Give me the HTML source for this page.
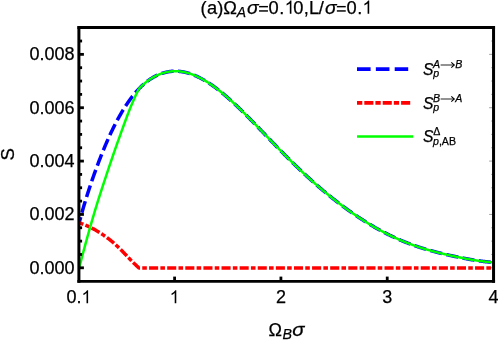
<!DOCTYPE html>
<html><head><meta charset="utf-8">
<style>
html,body{margin:0;padding:0;background:#fff;}
body{width:498px;height:340px;overflow:hidden;}
svg{display:block;will-change:transform;}
text{font-family:"Liberation Sans",sans-serif;fill:#000;stroke:#000;stroke-width:0.25px;}
.i{font-style:italic;}
</style></head><body>
<svg width="498" height="340" viewBox="0 0 498 340">
<rect x="0" y="0" width="498" height="340" fill="#fff"/>
<g font-size="18">
<text transform="translate(200.50,13.70) rotate(0.02)" font-size="18.30">(</text>
<text transform="translate(206.90,13.70) rotate(0.02)" font-size="18.30">a</text>
<text transform="translate(217.30,13.70) rotate(0.02)" font-size="18.30">)</text>
<text transform="translate(223.30,13.70) rotate(0.02)" font-size="18.30">Ω</text>
<text transform="translate(236.80,16.50) rotate(0.02)" font-size="13.90" class="i">A</text>
<text transform="translate(246.90,13.70) rotate(0.02)" font-size="19.21" class="i">σ</text>
<rect x="259.05" y="5.93" width="8.9" height="1.44" fill="#000"/>
<rect x="259.05" y="10.23" width="8.9" height="1.44" fill="#000"/>
<text transform="translate(268.60,13.70) rotate(0.02)" font-size="18.30">0</text>
<text transform="translate(279.30,13.70) rotate(0.02)" font-size="18.30">.</text>
<path transform="translate(284.60,13.70) scale(0.00894,-0.00894)" d="M763,0 L583,0 L583,1147 Q518,1085 412.5,1023 Q307,961 223,930 L223,1104 Q374,1175 487,1276 Q600,1377 647,1472 L763,1472 Z" fill="#000"/>
<text transform="translate(293.20,13.70) rotate(0.02)" font-size="18.30">0</text>
<text transform="translate(303.70,13.70) rotate(0.02)" font-size="18.30">,</text>
<text transform="translate(308.90,13.70) rotate(0.02)" font-size="18.30">L</text>
<text transform="translate(318.70,13.70) rotate(0.02)" font-size="18.30">/</text>
<text transform="translate(325.00,13.70) rotate(0.02)" font-size="19.21" class="i">σ</text>
<rect x="336.85" y="5.93" width="8.9" height="1.44" fill="#000"/>
<rect x="336.85" y="10.23" width="8.9" height="1.44" fill="#000"/>
<text transform="translate(346.50,13.70) rotate(0.02)" font-size="18.30">0</text>
<text transform="translate(357.20,13.70) rotate(0.02)" font-size="18.30">.</text>
<path transform="translate(362.40,13.70) scale(0.00894,-0.00894)" d="M763,0 L583,0 L583,1147 Q518,1085 412.5,1023 Q307,961 223,930 L223,1104 Q374,1175 487,1276 Q600,1377 647,1472 L763,1472 Z" fill="#000"/>
<text transform="translate(74.60,273.75) rotate(0.02)" text-anchor="end">0.000</text>
<text transform="translate(74.60,220.39) rotate(0.02)" text-anchor="end">0.002</text>
<text transform="translate(74.60,167.03) rotate(0.02)" text-anchor="end">0.004</text>
<text transform="translate(74.60,113.67) rotate(0.02)" text-anchor="end">0.006</text>
<text transform="translate(74.60,60.31) rotate(0.02)" text-anchor="end">0.008</text>
<text transform="translate(66.39,303.20) rotate(0.02)">0.</text>
<path transform="translate(81.40,303.20) scale(0.00879,-0.00879)" d="M763,0 L583,0 L583,1147 Q518,1085 412.5,1023 Q307,961 223,930 L223,1104 Q374,1175 487,1276 Q600,1377 647,1472 L763,1472 Z" fill="#000"/>
<path transform="translate(169.58,303.20) scale(0.00879,-0.00879)" d="M763,0 L583,0 L583,1147 Q518,1085 412.5,1023 Q307,961 223,930 L223,1104 Q374,1175 487,1276 Q600,1377 647,1472 L763,1472 Z" fill="#000"/>
<text transform="translate(280.91,303.20) rotate(0.02)" text-anchor="middle">2</text>
<text transform="translate(387.23,303.20) rotate(0.02)" text-anchor="middle">3</text>
<text transform="translate(493.55,303.20) rotate(0.02)" text-anchor="middle">4</text>
<text transform="translate(268.50,335.95) rotate(0.02)" font-size="18.00">Ω</text>
<text transform="translate(282.40,338.60) rotate(0.02)" font-size="14.20" class="i">B</text>
<text transform="translate(292.30,336.30) rotate(0.02) scale(1.07,1)" font-size="18.90" class="i">σ</text>
<text transform="translate(14.2,154.3) rotate(-90.02)" text-anchor="middle" font-size="18.6">S</text>
</g>
<line x1="493.55" y1="267.80" x2="489.15" y2="267.80" stroke="#777" stroke-width="0.7"/>
<line x1="493.55" y1="254.46" x2="491.25" y2="254.46" stroke="#777" stroke-width="0.7"/>
<line x1="493.55" y1="241.12" x2="491.25" y2="241.12" stroke="#777" stroke-width="0.7"/>
<line x1="493.55" y1="227.78" x2="491.25" y2="227.78" stroke="#777" stroke-width="0.7"/>
<line x1="493.55" y1="214.44" x2="489.15" y2="214.44" stroke="#777" stroke-width="0.7"/>
<line x1="493.55" y1="201.10" x2="491.25" y2="201.10" stroke="#777" stroke-width="0.7"/>
<line x1="493.55" y1="187.76" x2="491.25" y2="187.76" stroke="#777" stroke-width="0.7"/>
<line x1="493.55" y1="174.42" x2="491.25" y2="174.42" stroke="#777" stroke-width="0.7"/>
<line x1="493.55" y1="161.08" x2="489.15" y2="161.08" stroke="#777" stroke-width="0.7"/>
<line x1="493.55" y1="147.74" x2="491.25" y2="147.74" stroke="#777" stroke-width="0.7"/>
<line x1="493.55" y1="134.40" x2="491.25" y2="134.40" stroke="#777" stroke-width="0.7"/>
<line x1="493.55" y1="121.06" x2="491.25" y2="121.06" stroke="#777" stroke-width="0.7"/>
<line x1="493.55" y1="107.72" x2="489.15" y2="107.72" stroke="#777" stroke-width="0.7"/>
<line x1="493.55" y1="94.38" x2="491.25" y2="94.38" stroke="#777" stroke-width="0.7"/>
<line x1="493.55" y1="81.04" x2="491.25" y2="81.04" stroke="#777" stroke-width="0.7"/>
<line x1="493.55" y1="67.70" x2="491.25" y2="67.70" stroke="#777" stroke-width="0.7"/>
<line x1="493.55" y1="54.36" x2="489.15" y2="54.36" stroke="#777" stroke-width="0.7"/>
<line x1="493.55" y1="41.02" x2="491.25" y2="41.02" stroke="#777" stroke-width="0.7"/>
<clipPath id="cp"><rect x="78.9" y="27.7" width="414.65" height="253.70"/></clipPath>
<g fill="none" stroke-linejoin="round" clip-path="url(#cp)">
<path d="M78.90,223.99 L79.36,222.20 L79.82,220.43 L80.28,218.69 L80.74,216.97 L81.21,215.28 L81.67,213.61 L82.13,211.96 L82.59,210.33 L83.05,208.72 L83.51,207.13 L83.97,205.56 L84.43,204.01 L84.90,202.47 L85.36,200.95 L85.82,199.44 L86.28,197.95 L86.74,196.48 L87.20,195.01 L87.66,193.56 L88.12,192.13 L88.59,190.70 L89.05,189.29 L89.51,187.89 L89.97,186.49 L90.43,185.11 L90.89,183.74 L91.35,182.38 L91.81,181.03 L92.28,179.69 L92.74,178.36 L93.20,177.04 L93.66,175.73 L94.12,174.43 L94.58,173.13 L95.04,171.85 L95.50,170.57 L95.97,169.30 L96.43,168.05 L96.89,166.79 L97.35,165.55 L97.81,164.32 L98.27,163.09 L98.73,161.88 L99.19,160.67 L99.66,159.47 L100.12,158.28 L100.58,157.10 L101.04,155.93 L101.50,154.76 L101.96,153.61 L102.42,152.46 L102.88,151.32 L103.35,150.19 L103.81,149.07 L104.27,147.96 L104.73,146.86 L105.19,145.76 L105.65,144.67 L106.11,143.60 L106.57,142.53 L107.04,141.47 L107.50,140.42 L107.96,139.38 L108.42,138.35 L108.88,137.32 L109.34,136.31 L109.80,135.30 L110.26,134.30 L110.73,133.31 L111.19,132.33 L111.65,131.36 L112.11,130.40 L112.57,129.45 L113.03,128.50 L113.49,127.56 L113.95,126.64 L114.42,125.72 L114.88,124.81 L115.34,123.91 L115.80,123.01 L116.26,122.13 L116.72,121.25 L117.18,120.39 L117.64,119.53 L118.10,118.68 L118.57,117.84 L119.03,117.00 L119.49,116.18 L119.95,115.36 L120.41,114.55 L120.87,113.76 L121.33,112.96 L121.79,112.18 L122.26,111.41 L122.72,110.64 L123.18,109.88 L123.64,109.13 L124.10,108.39 L124.56,107.66 L125.02,106.93 L125.48,106.22 L125.95,105.51 L126.41,104.81 L126.87,104.12 L127.33,103.43 L127.79,102.75 L128.25,102.09 L128.71,101.42 L129.17,100.77 L129.64,100.13 L130.10,99.49 L130.56,98.86 L131.02,98.24 L131.48,97.62 L131.94,97.02 L132.40,96.42 L132.86,95.83 L133.33,95.25 L133.79,94.67 L134.25,94.10 L134.71,93.54 L135.17,92.99 L135.63,92.44 L136.09,91.91 L136.55,91.37 L137.02,90.85 L137.48,90.34 L137.94,89.83 L138.40,89.33 L138.86,88.83 L139.32,88.35 L139.78,87.87 L140.24,87.41 L140.71,86.95 L141.17,86.49 L141.63,86.05 L142.09,85.61 L142.55,85.19 L143.01,84.77 L143.47,84.35 L143.93,83.95 L144.40,83.55 L144.86,83.16 L145.32,82.78 L145.78,82.40 L146.24,82.03 L146.70,81.67 L147.16,81.32 L147.62,80.97 L148.09,80.63 L148.55,80.30 L149.01,79.98 L149.47,79.66 L149.93,79.35 L150.39,79.04 L150.85,78.74 L151.31,78.45 L151.78,78.17 L152.24,77.89 L152.70,77.62 L153.16,77.35 L153.62,77.09 L154.08,76.84 L154.54,76.59 L155.00,76.35 L155.46,76.11 L155.93,75.88 L156.39,75.66 L156.85,75.44 L157.31,75.23 L157.77,75.03 L158.23,74.83 L158.69,74.63 L159.15,74.45 L159.62,74.26 L160.08,74.09 L160.54,73.91 L161.00,73.75 L161.46,73.58 L161.92,73.43 L162.38,73.28 L162.84,73.13 L163.31,72.99 L163.77,72.85 L164.23,72.72 L164.69,72.60 L165.15,72.47 L165.61,72.36 L166.07,72.25 L166.53,72.14 L167.00,72.04 L167.46,71.95 L167.92,71.86 L168.38,71.78 L168.84,71.70 L169.30,71.63 L169.76,71.57 L170.22,71.50 L170.69,71.45 L171.15,71.40 L171.61,71.36 L172.07,71.32 L172.53,71.28 L172.99,71.25 L173.45,71.23 L173.91,71.21 L174.38,71.20 L174.84,71.19 L175.30,71.19 L175.76,71.19 L176.22,71.20 L176.68,71.22 L177.14,71.23 L177.60,71.26 L178.07,71.28 L178.53,71.32 L178.99,71.36 L179.45,71.40 L179.91,71.45 L180.37,71.50 L180.83,71.56 L181.29,71.62 L181.76,71.69 L182.22,71.76 L182.68,71.83 L183.14,71.92 L183.60,72.00 L184.06,72.09 L184.52,72.19 L184.98,72.29 L185.45,72.39 L185.91,72.50 L186.37,72.61 L186.83,72.73 L187.29,72.85 L187.75,72.98 L188.21,73.11 L188.67,73.25 L189.14,73.39 L189.60,73.53 L190.06,73.68 L190.52,73.83 L190.98,73.99 L191.44,74.15 L191.90,74.31 L192.36,74.48 L192.82,74.66 L193.29,74.84 L193.75,75.02 L194.21,75.20 L194.67,75.39 L195.13,75.59 L195.59,75.78 L196.05,75.99 L196.51,76.19 L196.98,76.40 L197.44,76.61 L197.90,76.83 L198.36,77.05 L198.82,77.28 L199.28,77.50 L199.74,77.74 L200.20,77.97 L200.67,78.21 L201.13,78.45 L201.59,78.70 L202.05,78.95 L202.51,79.21 L202.97,79.46 L203.43,79.72 L203.89,79.99 L204.36,80.25 L204.82,80.53 L205.28,80.80 L205.74,81.08 L206.20,81.36 L206.66,81.64 L207.12,81.93 L207.58,82.22 L208.05,82.52 L208.51,82.81 L208.97,83.11 L209.43,83.42 L209.89,83.72 L210.35,84.03 L210.81,84.35 L211.27,84.66 L211.74,84.98 L212.20,85.30 L212.66,85.63 L213.12,85.95 L213.58,86.28 L214.04,86.62 L214.50,86.95 L214.96,87.29 L215.43,87.63 L215.89,87.98 L216.35,88.32 L216.81,88.67 L217.27,89.02 L217.73,89.38 L218.19,89.74 L218.65,90.10 L219.12,90.46 L219.58,90.82 L220.04,91.19 L220.50,91.56 L220.96,91.93 L221.42,92.31 L221.88,92.68 L222.34,93.06 L222.81,93.44 L223.27,93.83 L223.73,94.21 L224.19,94.60 L224.65,94.99 L225.11,95.39 L225.57,95.78 L226.03,96.18 L226.50,96.58 L226.96,96.98 L227.42,97.38 L227.88,97.78 L228.34,98.19 L228.80,98.60 L229.26,99.01 L229.72,99.42 L230.18,99.84 L230.65,100.25 L231.11,100.67 L231.57,101.09 L232.03,101.51 L232.49,101.94 L232.95,102.36 L233.41,102.79 L233.87,103.21 L234.34,103.64 L234.80,104.08 L235.26,104.51 L235.72,104.94 L236.18,105.38 L236.64,105.82 L237.10,106.25 L237.56,106.70 L238.03,107.14 L238.49,107.58 L238.95,108.02 L239.41,108.47 L239.87,108.92 L240.33,109.36 L240.79,109.81 L241.25,110.26 L241.72,110.72 L242.18,111.17 L242.64,111.62 L243.10,112.08 L243.56,112.53 L244.02,112.99 L244.48,113.45 L244.94,113.91 L245.41,114.37 L245.87,114.83 L246.33,115.29 L246.79,115.76 L247.25,116.22 L247.71,116.68 L248.17,117.15 L248.63,117.62 L249.10,118.08 L249.56,118.55 L250.02,119.02 L250.48,119.49 L250.94,119.96 L251.40,120.43 L251.86,120.90 L252.32,121.37 L252.79,121.85 L253.25,122.32 L253.71,122.79 L254.17,123.27 L254.63,123.74 L255.09,124.22 L255.55,124.69 L256.01,125.17 L256.48,125.64 L256.94,126.12 L257.40,126.60 L257.86,127.08 L258.32,127.55 L258.78,128.03 L259.24,128.51 L259.70,128.99 L260.17,129.47 L260.63,129.95 L261.09,130.43 L261.55,130.91 L262.01,131.38 L262.47,131.86 L262.93,132.34 L263.39,132.82 L263.86,133.30 L264.32,133.78 L264.78,134.26 L265.24,134.74 L265.70,135.22 L266.16,135.70 L266.62,136.18 L267.08,136.66 L267.54,137.14 L268.01,137.62 L268.47,138.10 L268.93,138.58 L269.39,139.06 L269.85,139.54 L270.31,140.02 L270.77,140.50 L271.23,140.98 L271.70,141.46 L272.16,141.93 L272.62,142.41 L273.08,142.89 L273.54,143.37 L274.00,143.84 L274.46,144.32 L274.92,144.80 L275.39,145.27 L275.85,145.75 L276.31,146.22 L276.77,146.70 L277.23,147.17 L277.69,147.64 L278.15,148.12 L278.61,148.59 L279.08,149.06 L279.54,149.53 L280.00,150.01 L280.46,150.48 L280.92,150.95 L281.38,151.42 L281.84,151.89 L282.30,152.35 L282.77,152.82 L283.23,153.29 L283.69,153.76 L284.15,154.22 L284.61,154.69 L285.07,155.15 L285.53,155.62 L285.99,156.08 L286.46,156.54 L286.92,157.00 L287.38,157.47 L287.84,157.93 L288.30,158.39 L288.76,158.85 L289.22,159.30 L289.68,159.76 L290.15,160.22 L290.61,160.67 L291.07,161.13 L291.53,161.59 L291.99,162.04 L292.45,162.49 L292.91,162.94 L293.37,163.40 L293.84,163.85 L294.30,164.30 L294.76,164.74 L295.22,165.19 L295.68,165.64 L296.14,166.09 L296.60,166.53 L297.06,166.98 L297.53,167.42 L297.99,167.86 L298.45,168.31 L298.91,168.75 L299.37,169.19 L299.83,169.63 L300.29,170.06 L300.75,170.50 L301.22,170.94 L301.68,171.37 L302.14,171.81 L302.60,172.24 L303.06,172.68 L303.52,173.11 L303.98,173.54 L304.44,173.97 L304.91,174.40 L305.37,174.83 L305.83,175.25 L306.29,175.68 L306.75,176.10 L307.21,176.53 L307.67,176.95 L308.13,177.37 L308.59,177.79 L309.06,178.21 L309.52,178.63 L309.98,179.05 L310.44,179.47 L310.90,179.89 L311.36,180.30 L311.82,180.71 L312.28,181.13 L312.75,181.54 L313.21,181.95 L313.67,182.36 L314.13,182.77 L314.59,183.18 L315.05,183.59 L315.51,183.99 L315.97,184.40 L316.44,184.80 L316.90,185.20 L317.36,185.61 L317.82,186.01 L318.28,186.41 L318.74,186.81 L319.20,187.20 L319.66,187.60 L320.13,188.00 L320.59,188.39 L321.05,188.78 L321.51,189.18 L321.97,189.57 L322.43,189.96 L322.89,190.35 L323.35,190.74 L323.82,191.12 L324.28,191.51 L324.74,191.89 L325.20,192.28 L325.66,192.66 L326.12,193.04 L326.58,193.43 L327.04,193.81 L327.51,194.18 L327.97,194.56 L328.43,194.94 L328.89,195.31 L329.35,195.69 L329.81,196.06 L330.27,196.44 L330.73,196.81 L331.20,197.18 L331.66,197.55 L332.12,197.91 L332.58,198.28 L333.04,198.65 L333.50,199.01 L333.96,199.38 L334.42,199.74 L334.89,200.10 L335.35,200.46 L335.81,200.82 L336.27,201.18 L336.73,201.54 L337.19,201.90 L337.65,202.25 L338.11,202.61 L338.58,202.96 L339.04,203.31 L339.50,203.66 L339.96,204.01 L340.42,204.36 L340.88,204.71 L341.34,205.06 L341.80,205.40 L342.27,205.75 L342.73,206.09 L343.19,206.43 L343.65,206.78 L344.11,207.12 L344.57,207.46 L345.03,207.79 L345.49,208.13 L345.95,208.47 L346.42,208.80 L346.88,209.14 L347.34,209.47 L347.80,209.80 L348.26,210.13 L348.72,210.46 L349.18,210.79 L349.64,211.12 L350.11,211.44 L350.57,211.77 L351.03,212.09 L351.49,212.42 L351.95,212.74 L352.41,213.06 L352.87,213.38 L353.33,213.70 L353.80,214.02 L354.26,214.33 L354.72,214.65 L355.18,214.96 L355.64,215.28 L356.10,215.59 L356.56,215.90 L357.02,216.21 L357.49,216.52 L357.95,216.83 L358.41,217.13 L358.87,217.44 L359.33,217.74 L359.79,218.04 L360.25,218.35 L360.71,218.65 L361.18,218.95 L361.64,219.25 L362.10,219.54 L362.56,219.84 L363.02,220.14 L363.48,220.43 L363.94,220.72 L364.40,221.01 L364.87,221.30 L365.33,221.59 L365.79,221.88 L366.25,222.17 L366.71,222.46 L367.17,222.74 L367.63,223.02 L368.09,223.31 L368.56,223.59 L369.02,223.87 L369.48,224.15 L369.94,224.42 L370.40,224.70 L370.86,224.98 L371.32,225.25 L371.78,225.52 L372.25,225.80 L372.71,226.07 L373.17,226.34 L373.63,226.60 L374.09,226.87 L374.55,227.14 L375.01,227.40 L375.47,227.67 L375.94,227.93 L376.40,228.19 L376.86,228.45 L377.32,228.71 L377.78,228.97 L378.24,229.22 L378.70,229.48 L379.16,229.73 L379.63,229.98 L380.09,230.24 L380.55,230.49 L381.01,230.74 L381.47,230.98 L381.93,231.23 L382.39,231.48 L382.85,231.72 L383.31,231.96 L383.78,232.20 L384.24,232.45 L384.70,232.68 L385.16,232.92 L385.62,233.16 L386.08,233.40 L386.54,233.63 L387.00,233.86 L387.47,234.10 L387.93,234.33 L388.39,234.56 L388.85,234.78 L389.31,235.01 L389.77,235.24 L390.23,235.46 L390.69,235.68 L391.16,235.91 L391.62,236.13 L392.08,236.35 L392.54,236.57 L393.00,236.78 L393.46,237.00 L393.92,237.21 L394.38,237.43 L394.85,237.64 L395.31,237.85 L395.77,238.06 L396.23,238.27 L396.69,238.48 L397.15,238.68 L397.61,238.89 L398.07,239.09 L398.54,239.30 L399.00,239.50 L399.46,239.70 L399.92,239.90 L400.38,240.09 L400.84,240.29 L401.30,240.49 L401.76,240.68 L402.23,240.87 L402.69,241.07 L403.15,241.26 L403.61,241.45 L404.07,241.63 L404.53,241.82 L404.99,242.01 L405.45,242.19 L405.92,242.37 L406.38,242.56 L406.84,242.74 L407.30,242.92 L407.76,243.10 L408.22,243.27 L408.68,243.45 L409.14,243.63 L409.61,243.80 L410.07,243.97 L410.53,244.15 L410.99,244.32 L411.45,244.49 L411.91,244.65 L412.37,244.82 L412.83,244.99 L413.30,245.15 L413.76,245.32 L414.22,245.48 L414.68,245.64 L415.14,245.80 L415.60,245.96 L416.06,246.12 L416.52,246.28 L416.99,246.43 L417.45,246.59 L417.91,246.74 L418.37,246.90 L418.83,247.05 L419.29,247.20 L419.75,247.35 L420.21,247.50 L420.67,247.65 L421.14,247.80 L421.60,247.94 L422.06,248.09 L422.52,248.23 L422.98,248.37 L423.44,248.52 L423.90,248.66 L424.36,248.80 L424.83,248.94 L425.29,249.08 L425.75,249.21 L426.21,249.35 L426.67,249.49 L427.13,249.62 L427.59,249.76 L428.05,249.89 L428.52,250.02 L428.98,250.15 L429.44,250.28 L429.90,250.41 L430.36,250.54 L430.82,250.67 L431.28,250.80 L431.74,250.92 L432.21,251.05 L432.67,251.17 L433.13,251.30 L433.59,251.42 L434.05,251.54 L434.51,251.66 L434.97,251.79 L435.43,251.91 L435.90,252.03 L436.36,252.14 L436.82,252.26 L437.28,252.38 L437.74,252.50 L438.20,252.61 L438.66,252.73 L439.12,252.84 L439.59,252.96 L440.05,253.07 L440.51,253.18 L440.97,253.30 L441.43,253.41 L441.89,253.52 L442.35,253.63 L442.81,253.74 L443.28,253.85 L443.74,253.96 L444.20,254.07 L444.66,254.17 L445.12,254.28 L445.58,254.39 L446.04,254.49 L446.50,254.60 L446.97,254.71 L447.43,254.81 L447.89,254.91 L448.35,255.02 L448.81,255.12 L449.27,255.22 L449.73,255.33 L450.19,255.43 L450.66,255.53 L451.12,255.63 L451.58,255.73 L452.04,255.83 L452.50,255.93 L452.96,256.03 L453.42,256.13 L453.88,256.23 L454.35,256.32 L454.81,256.42 L455.27,256.52 L455.73,256.62 L456.19,256.71 L456.65,256.81 L457.11,256.90 L457.57,257.00 L458.03,257.09 L458.50,257.19 L458.96,257.28 L459.42,257.38 L459.88,257.47 L460.34,257.56 L460.80,257.65 L461.26,257.75 L461.72,257.84 L462.19,257.93 L462.65,258.02 L463.11,258.11 L463.57,258.20 L464.03,258.29 L464.49,258.38 L464.95,258.47 L465.41,258.56 L465.88,258.65 L466.34,258.73 L466.80,258.82 L467.26,258.91 L467.72,258.99 L468.18,259.08 L468.64,259.17 L469.10,259.25 L469.57,259.33 L470.03,259.42 L470.49,259.50 L470.95,259.58 L471.41,259.66 L471.87,259.74 L472.33,259.82 L472.79,259.89 L473.26,259.97 L473.72,260.05 L474.18,260.12 L474.64,260.19 L475.10,260.27 L475.56,260.34 L476.02,260.41 L476.48,260.48 L476.95,260.55 L477.41,260.62 L477.87,260.68 L478.33,260.75 L478.79,260.82 L479.25,260.88 L479.71,260.95 L480.17,261.01 L480.64,261.07 L481.10,261.13 L481.56,261.19 L482.02,261.25 L482.48,261.31 L482.94,261.37 L483.40,261.42 L483.86,261.48 L484.33,261.53 L484.79,261.59 L485.25,261.64 L485.71,261.69 L486.17,261.74 L486.63,261.79 L487.09,261.83 L487.55,261.88 L488.02,261.93 L488.48,261.97 L488.94,262.02 L489.40,262.06 L489.86,262.10 L490.32,262.14 L490.78,262.18 L491.24,262.21 L491.71,262.25 L492.17,262.28 L492.63,262.32 L493.09,262.35 L493.55,262.38" stroke="#0000ff" stroke-width="3.5" stroke-dasharray="12.12 4.42" stroke-dashoffset="5"/>
<path d="M78.90,222.75 L79.30,222.88 L79.71,223.01 L80.11,223.15 L80.51,223.28 L80.92,223.42 L81.32,223.56 L81.72,223.71 L82.13,223.85 L82.53,224.00 L82.93,224.15 L83.34,224.30 L83.74,224.46 L84.14,224.61 L84.55,224.77 L84.95,224.94 L85.35,225.10 L85.76,225.27 L86.16,225.44 L86.56,225.61 L86.97,225.78 L87.37,225.96 L87.77,226.14 L88.18,226.32 L88.58,226.50 L88.98,226.69 L89.39,226.88 L89.79,227.07 L90.19,227.26 L90.60,227.46 L91.00,227.66 L91.40,227.86 L91.81,228.07 L92.21,228.27 L92.61,228.48 L93.02,228.70 L93.42,228.91 L93.82,229.13 L94.23,229.35 L94.63,229.57 L95.03,229.80 L95.44,230.03 L95.84,230.26 L96.24,230.50 L96.65,230.73 L97.05,230.97 L97.45,231.22 L97.86,231.46 L98.26,231.71 L98.66,231.96 L99.07,232.22 L99.47,232.47 L99.87,232.73 L100.28,233.00 L100.68,233.26 L101.08,233.52 L101.49,233.79 L101.89,234.06 L102.29,234.33 L102.70,234.60 L103.10,234.87 L103.50,235.14 L103.91,235.42 L104.31,235.70 L104.71,235.98 L105.12,236.26 L105.52,236.54 L105.92,236.83 L106.33,237.12 L106.73,237.41 L107.13,237.71 L107.54,238.00 L107.94,238.31 L108.34,238.61 L108.75,238.92 L109.15,239.23 L109.56,239.54 L109.96,239.86 L110.36,240.18 L110.77,240.50 L111.17,240.83 L111.57,241.17 L111.98,241.50 L112.38,241.84 L112.78,242.19 L113.19,242.54 L113.59,242.89 L113.99,243.25 L114.40,243.60 L114.80,243.96 L115.20,244.33 L115.61,244.69 L116.01,245.06 L116.41,245.43 L116.82,245.81 L117.22,246.18 L117.62,246.56 L118.03,246.94 L118.43,247.33 L118.83,247.72 L119.24,248.11 L119.64,248.50 L120.04,248.90 L120.45,249.30 L120.85,249.70 L121.25,250.10 L121.66,250.51 L122.06,250.92 L122.46,251.34 L122.87,251.75 L123.27,252.17 L123.67,252.59 L124.08,253.01 L124.48,253.44 L124.88,253.86 L125.29,254.29 L125.69,254.71 L126.09,255.14 L126.50,255.57 L126.90,255.99 L127.30,256.42 L127.71,256.85 L128.11,257.27 L128.51,257.70 L128.92,258.12 L129.32,258.54 L129.72,258.96 L130.13,259.38 L130.53,259.79 L130.93,260.21 L131.34,260.62 L131.74,261.03 L132.14,261.44 L132.55,261.84 L132.95,262.24 L133.35,262.65 L133.76,263.05 L134.16,263.44 L134.56,263.84 L134.97,264.23 L135.37,264.62 L135.77,265.00 L136.18,265.38 L136.58,265.76 L136.98,266.14 L137.39,266.51 L137.79,266.87 L138.19,267.24 L138.60,267.60 L139.00,267.95 L493.55,267.95" stroke="#ff0000" stroke-width="3.5" stroke-dasharray="9.1 2.2 4.6 2.21" stroke-dashoffset="4.4"/>
<path d="M78.90,269.19 L79.36,267.32 L79.82,265.48 L80.28,263.66 L80.74,261.86 L81.21,260.07 L81.67,258.30 L82.13,256.54 L82.59,254.79 L83.05,253.05 L83.51,251.30 L83.97,249.56 L84.43,247.83 L84.90,246.10 L85.36,244.39 L85.82,242.69 L86.28,241.00 L86.74,239.31 L87.20,237.64 L87.66,235.97 L88.12,234.32 L88.59,232.67 L89.05,231.03 L89.51,229.40 L89.97,227.78 L90.43,226.16 L90.89,224.55 L91.35,222.95 L91.81,221.36 L92.28,219.77 L92.74,218.19 L93.20,216.61 L93.66,215.05 L94.12,213.49 L94.58,211.94 L95.04,210.39 L95.50,208.86 L95.97,207.34 L96.43,205.83 L96.89,204.34 L97.35,202.86 L97.81,201.38 L98.27,199.92 L98.73,198.46 L99.19,197.02 L99.66,195.58 L100.12,194.14 L100.58,192.72 L101.04,191.30 L101.50,189.88 L101.96,188.48 L102.42,187.07 L102.88,185.67 L103.35,184.27 L103.81,182.88 L104.27,181.48 L104.73,180.08 L105.19,178.69 L105.65,177.29 L106.11,175.88 L106.57,174.48 L107.04,173.09 L107.50,171.70 L107.96,170.31 L108.42,168.93 L108.88,167.55 L109.34,166.18 L109.80,164.81 L110.26,163.45 L110.73,162.09 L111.19,160.74 L111.65,159.38 L112.11,158.03 L112.57,156.69 L113.03,155.35 L113.49,154.01 L113.95,152.67 L114.42,151.35 L114.88,150.02 L115.34,148.71 L115.80,147.39 L116.26,146.09 L116.72,144.78 L117.18,143.49 L117.64,142.20 L118.10,140.91 L118.57,139.62 L119.03,138.33 L119.49,137.05 L119.95,135.76 L120.41,134.47 L120.87,133.18 L121.33,131.90 L121.79,130.61 L122.26,129.33 L122.72,128.05 L123.18,126.77 L123.64,125.49 L124.10,124.22 L124.56,122.96 L125.02,121.70 L125.48,120.45 L125.95,119.20 L126.41,117.96 L126.87,116.73 L127.33,115.51 L127.79,114.30 L128.25,113.10 L128.71,111.91 L129.17,110.73 L129.64,109.56 L130.10,108.41 L130.56,107.27 L131.02,106.15 L131.48,105.04 L131.94,103.94 L132.40,102.85 L132.86,101.78 L133.33,100.72 L133.79,99.66 L134.25,98.62 L134.71,97.59 L135.17,96.57 L135.63,95.57 L136.09,94.58 L136.55,93.60 L137.02,92.64 L137.48,91.70 L137.94,90.77 L138.40,89.86 L138.86,88.96 L139.32,88.35 L139.78,87.87 L140.24,87.41 L140.71,86.95 L141.17,86.49 L141.63,86.05 L142.09,85.61 L142.55,85.19 L143.01,84.77 L143.47,84.35 L143.93,83.95 L144.40,83.55 L144.86,83.16 L145.32,82.78 L145.78,82.40 L146.24,82.03 L146.70,81.67 L147.16,81.32 L147.62,80.97 L148.09,80.63 L148.55,80.30 L149.01,79.98 L149.47,79.66 L149.93,79.35 L150.39,79.04 L150.85,78.74 L151.31,78.45 L151.78,78.17 L152.24,77.89 L152.70,77.62 L153.16,77.35 L153.62,77.09 L154.08,76.84 L154.54,76.59 L155.00,76.35 L155.46,76.11 L155.93,75.88 L156.39,75.66 L156.85,75.44 L157.31,75.23 L157.77,75.03 L158.23,74.83 L158.69,74.63 L159.15,74.45 L159.62,74.26 L160.08,74.09 L160.54,73.91 L161.00,73.75 L161.46,73.58 L161.92,73.43 L162.38,73.28 L162.84,73.13 L163.31,72.99 L163.77,72.85 L164.23,72.72 L164.69,72.60 L165.15,72.47 L165.61,72.36 L166.07,72.25 L166.53,72.14 L167.00,72.04 L167.46,71.95 L167.92,71.86 L168.38,71.78 L168.84,71.70 L169.30,71.63 L169.76,71.57 L170.22,71.50 L170.69,71.45 L171.15,71.40 L171.61,71.36 L172.07,71.32 L172.53,71.28 L172.99,71.25 L173.45,71.23 L173.91,71.21 L174.38,71.20 L174.84,71.19 L175.30,71.19 L175.76,71.19 L176.22,71.20 L176.68,71.22 L177.14,71.23 L177.60,71.26 L178.07,71.28 L178.53,71.32 L178.99,71.36 L179.45,71.40 L179.91,71.45 L180.37,71.50 L180.83,71.56 L181.29,71.62 L181.76,71.69 L182.22,71.76 L182.68,71.83 L183.14,71.92 L183.60,72.00 L184.06,72.09 L184.52,72.19 L184.98,72.29 L185.45,72.39 L185.91,72.50 L186.37,72.61 L186.83,72.73 L187.29,72.85 L187.75,72.98 L188.21,73.11 L188.67,73.25 L189.14,73.39 L189.60,73.53 L190.06,73.68 L190.52,73.83 L190.98,73.99 L191.44,74.15 L191.90,74.31 L192.36,74.48 L192.82,74.66 L193.29,74.84 L193.75,75.02 L194.21,75.20 L194.67,75.39 L195.13,75.59 L195.59,75.78 L196.05,75.99 L196.51,76.19 L196.98,76.40 L197.44,76.61 L197.90,76.83 L198.36,77.05 L198.82,77.28 L199.28,77.50 L199.74,77.74 L200.20,77.97 L200.67,78.21 L201.13,78.45 L201.59,78.70 L202.05,78.95 L202.51,79.21 L202.97,79.46 L203.43,79.72 L203.89,79.99 L204.36,80.25 L204.82,80.53 L205.28,80.80 L205.74,81.08 L206.20,81.36 L206.66,81.64 L207.12,81.93 L207.58,82.22 L208.05,82.52 L208.51,82.81 L208.97,83.11 L209.43,83.42 L209.89,83.72 L210.35,84.03 L210.81,84.35 L211.27,84.66 L211.74,84.98 L212.20,85.30 L212.66,85.63 L213.12,85.95 L213.58,86.28 L214.04,86.62 L214.50,86.95 L214.96,87.29 L215.43,87.63 L215.89,87.98 L216.35,88.32 L216.81,88.67 L217.27,89.02 L217.73,89.38 L218.19,89.74 L218.65,90.10 L219.12,90.46 L219.58,90.82 L220.04,91.19 L220.50,91.56 L220.96,91.93 L221.42,92.31 L221.88,92.68 L222.34,93.06 L222.81,93.44 L223.27,93.83 L223.73,94.21 L224.19,94.60 L224.65,94.99 L225.11,95.39 L225.57,95.78 L226.03,96.18 L226.50,96.58 L226.96,96.98 L227.42,97.38 L227.88,97.78 L228.34,98.19 L228.80,98.60 L229.26,99.01 L229.72,99.42 L230.18,99.84 L230.65,100.25 L231.11,100.67 L231.57,101.09 L232.03,101.51 L232.49,101.94 L232.95,102.36 L233.41,102.79 L233.87,103.21 L234.34,103.64 L234.80,104.08 L235.26,104.51 L235.72,104.94 L236.18,105.38 L236.64,105.82 L237.10,106.25 L237.56,106.70 L238.03,107.14 L238.49,107.58 L238.95,108.02 L239.41,108.47 L239.87,108.92 L240.33,109.36 L240.79,109.81 L241.25,110.26 L241.72,110.72 L242.18,111.17 L242.64,111.62 L243.10,112.08 L243.56,112.53 L244.02,112.99 L244.48,113.45 L244.94,113.91 L245.41,114.37 L245.87,114.83 L246.33,115.29 L246.79,115.76 L247.25,116.22 L247.71,116.68 L248.17,117.15 L248.63,117.62 L249.10,118.08 L249.56,118.55 L250.02,119.02 L250.48,119.49 L250.94,119.96 L251.40,120.43 L251.86,120.90 L252.32,121.37 L252.79,121.85 L253.25,122.32 L253.71,122.79 L254.17,123.27 L254.63,123.74 L255.09,124.22 L255.55,124.69 L256.01,125.17 L256.48,125.64 L256.94,126.12 L257.40,126.60 L257.86,127.08 L258.32,127.55 L258.78,128.03 L259.24,128.51 L259.70,128.99 L260.17,129.47 L260.63,129.95 L261.09,130.43 L261.55,130.91 L262.01,131.38 L262.47,131.86 L262.93,132.34 L263.39,132.82 L263.86,133.30 L264.32,133.78 L264.78,134.26 L265.24,134.74 L265.70,135.22 L266.16,135.70 L266.62,136.18 L267.08,136.66 L267.54,137.14 L268.01,137.62 L268.47,138.10 L268.93,138.58 L269.39,139.06 L269.85,139.54 L270.31,140.02 L270.77,140.50 L271.23,140.98 L271.70,141.46 L272.16,141.93 L272.62,142.41 L273.08,142.89 L273.54,143.37 L274.00,143.84 L274.46,144.32 L274.92,144.80 L275.39,145.27 L275.85,145.75 L276.31,146.22 L276.77,146.70 L277.23,147.17 L277.69,147.64 L278.15,148.12 L278.61,148.59 L279.08,149.06 L279.54,149.53 L280.00,150.01 L280.46,150.48 L280.92,150.95 L281.38,151.42 L281.84,151.89 L282.30,152.35 L282.77,152.82 L283.23,153.29 L283.69,153.76 L284.15,154.22 L284.61,154.69 L285.07,155.15 L285.53,155.62 L285.99,156.08 L286.46,156.54 L286.92,157.00 L287.38,157.47 L287.84,157.93 L288.30,158.39 L288.76,158.85 L289.22,159.30 L289.68,159.76 L290.15,160.22 L290.61,160.67 L291.07,161.13 L291.53,161.59 L291.99,162.04 L292.45,162.49 L292.91,162.94 L293.37,163.40 L293.84,163.85 L294.30,164.30 L294.76,164.74 L295.22,165.19 L295.68,165.64 L296.14,166.09 L296.60,166.53 L297.06,166.98 L297.53,167.42 L297.99,167.86 L298.45,168.31 L298.91,168.75 L299.37,169.19 L299.83,169.63 L300.29,170.06 L300.75,170.50 L301.22,170.94 L301.68,171.37 L302.14,171.81 L302.60,172.24 L303.06,172.68 L303.52,173.11 L303.98,173.54 L304.44,173.97 L304.91,174.40 L305.37,174.83 L305.83,175.25 L306.29,175.68 L306.75,176.10 L307.21,176.53 L307.67,176.95 L308.13,177.37 L308.59,177.79 L309.06,178.21 L309.52,178.63 L309.98,179.05 L310.44,179.47 L310.90,179.89 L311.36,180.30 L311.82,180.71 L312.28,181.13 L312.75,181.54 L313.21,181.95 L313.67,182.36 L314.13,182.77 L314.59,183.18 L315.05,183.59 L315.51,183.99 L315.97,184.40 L316.44,184.80 L316.90,185.20 L317.36,185.61 L317.82,186.01 L318.28,186.41 L318.74,186.81 L319.20,187.20 L319.66,187.60 L320.13,188.00 L320.59,188.39 L321.05,188.78 L321.51,189.18 L321.97,189.57 L322.43,189.96 L322.89,190.35 L323.35,190.74 L323.82,191.12 L324.28,191.51 L324.74,191.89 L325.20,192.28 L325.66,192.66 L326.12,193.04 L326.58,193.43 L327.04,193.81 L327.51,194.18 L327.97,194.56 L328.43,194.94 L328.89,195.31 L329.35,195.69 L329.81,196.06 L330.27,196.44 L330.73,196.81 L331.20,197.18 L331.66,197.55 L332.12,197.91 L332.58,198.28 L333.04,198.65 L333.50,199.01 L333.96,199.38 L334.42,199.74 L334.89,200.10 L335.35,200.46 L335.81,200.82 L336.27,201.18 L336.73,201.54 L337.19,201.90 L337.65,202.25 L338.11,202.61 L338.58,202.96 L339.04,203.31 L339.50,203.66 L339.96,204.01 L340.42,204.36 L340.88,204.71 L341.34,205.06 L341.80,205.40 L342.27,205.75 L342.73,206.09 L343.19,206.43 L343.65,206.78 L344.11,207.12 L344.57,207.46 L345.03,207.79 L345.49,208.13 L345.95,208.47 L346.42,208.80 L346.88,209.14 L347.34,209.47 L347.80,209.80 L348.26,210.13 L348.72,210.46 L349.18,210.79 L349.64,211.12 L350.11,211.44 L350.57,211.77 L351.03,212.09 L351.49,212.42 L351.95,212.74 L352.41,213.06 L352.87,213.38 L353.33,213.70 L353.80,214.02 L354.26,214.33 L354.72,214.65 L355.18,214.96 L355.64,215.28 L356.10,215.59 L356.56,215.90 L357.02,216.21 L357.49,216.52 L357.95,216.83 L358.41,217.13 L358.87,217.44 L359.33,217.74 L359.79,218.04 L360.25,218.35 L360.71,218.65 L361.18,218.95 L361.64,219.25 L362.10,219.54 L362.56,219.84 L363.02,220.14 L363.48,220.43 L363.94,220.72 L364.40,221.01 L364.87,221.30 L365.33,221.59 L365.79,221.88 L366.25,222.17 L366.71,222.46 L367.17,222.74 L367.63,223.02 L368.09,223.31 L368.56,223.59 L369.02,223.87 L369.48,224.15 L369.94,224.42 L370.40,224.70 L370.86,224.98 L371.32,225.25 L371.78,225.52 L372.25,225.80 L372.71,226.07 L373.17,226.34 L373.63,226.60 L374.09,226.87 L374.55,227.14 L375.01,227.40 L375.47,227.67 L375.94,227.93 L376.40,228.19 L376.86,228.45 L377.32,228.71 L377.78,228.97 L378.24,229.22 L378.70,229.48 L379.16,229.73 L379.63,229.98 L380.09,230.24 L380.55,230.49 L381.01,230.74 L381.47,230.98 L381.93,231.23 L382.39,231.48 L382.85,231.72 L383.31,231.96 L383.78,232.20 L384.24,232.45 L384.70,232.68 L385.16,232.92 L385.62,233.16 L386.08,233.40 L386.54,233.63 L387.00,233.86 L387.47,234.10 L387.93,234.33 L388.39,234.56 L388.85,234.78 L389.31,235.01 L389.77,235.24 L390.23,235.46 L390.69,235.68 L391.16,235.91 L391.62,236.13 L392.08,236.35 L392.54,236.57 L393.00,236.78 L393.46,237.00 L393.92,237.21 L394.38,237.43 L394.85,237.64 L395.31,237.85 L395.77,238.06 L396.23,238.27 L396.69,238.48 L397.15,238.68 L397.61,238.89 L398.07,239.09 L398.54,239.30 L399.00,239.50 L399.46,239.70 L399.92,239.90 L400.38,240.09 L400.84,240.29 L401.30,240.49 L401.76,240.68 L402.23,240.87 L402.69,241.07 L403.15,241.26 L403.61,241.45 L404.07,241.63 L404.53,241.82 L404.99,242.01 L405.45,242.19 L405.92,242.37 L406.38,242.56 L406.84,242.74 L407.30,242.92 L407.76,243.10 L408.22,243.27 L408.68,243.45 L409.14,243.63 L409.61,243.80 L410.07,243.97 L410.53,244.15 L410.99,244.32 L411.45,244.49 L411.91,244.65 L412.37,244.82 L412.83,244.99 L413.30,245.15 L413.76,245.32 L414.22,245.48 L414.68,245.64 L415.14,245.80 L415.60,245.96 L416.06,246.12 L416.52,246.28 L416.99,246.43 L417.45,246.59 L417.91,246.74 L418.37,246.90 L418.83,247.05 L419.29,247.20 L419.75,247.35 L420.21,247.50 L420.67,247.65 L421.14,247.80 L421.60,247.94 L422.06,248.09 L422.52,248.23 L422.98,248.37 L423.44,248.52 L423.90,248.66 L424.36,248.80 L424.83,248.94 L425.29,249.08 L425.75,249.21 L426.21,249.35 L426.67,249.49 L427.13,249.62 L427.59,249.76 L428.05,249.89 L428.52,250.02 L428.98,250.15 L429.44,250.28 L429.90,250.41 L430.36,250.54 L430.82,250.67 L431.28,250.80 L431.74,250.92 L432.21,251.05 L432.67,251.17 L433.13,251.30 L433.59,251.42 L434.05,251.54 L434.51,251.66 L434.97,251.79 L435.43,251.91 L435.90,252.03 L436.36,252.14 L436.82,252.26 L437.28,252.38 L437.74,252.50 L438.20,252.61 L438.66,252.73 L439.12,252.84 L439.59,252.96 L440.05,253.07 L440.51,253.18 L440.97,253.30 L441.43,253.41 L441.89,253.52 L442.35,253.63 L442.81,253.74 L443.28,253.85 L443.74,253.96 L444.20,254.07 L444.66,254.17 L445.12,254.28 L445.58,254.39 L446.04,254.49 L446.50,254.60 L446.97,254.71 L447.43,254.81 L447.89,254.91 L448.35,255.02 L448.81,255.12 L449.27,255.22 L449.73,255.33 L450.19,255.43 L450.66,255.53 L451.12,255.63 L451.58,255.73 L452.04,255.83 L452.50,255.93 L452.96,256.03 L453.42,256.13 L453.88,256.23 L454.35,256.32 L454.81,256.42 L455.27,256.52 L455.73,256.62 L456.19,256.71 L456.65,256.81 L457.11,256.90 L457.57,257.00 L458.03,257.09 L458.50,257.19 L458.96,257.28 L459.42,257.38 L459.88,257.47 L460.34,257.56 L460.80,257.65 L461.26,257.75 L461.72,257.84 L462.19,257.93 L462.65,258.02 L463.11,258.11 L463.57,258.20 L464.03,258.29 L464.49,258.38 L464.95,258.47 L465.41,258.56 L465.88,258.65 L466.34,258.73 L466.80,258.82 L467.26,258.91 L467.72,258.99 L468.18,259.08 L468.64,259.17 L469.10,259.25 L469.57,259.33 L470.03,259.42 L470.49,259.50 L470.95,259.58 L471.41,259.66 L471.87,259.74 L472.33,259.82 L472.79,259.89 L473.26,259.97 L473.72,260.05 L474.18,260.12 L474.64,260.19 L475.10,260.27 L475.56,260.34 L476.02,260.41 L476.48,260.48 L476.95,260.55 L477.41,260.62 L477.87,260.68 L478.33,260.75 L478.79,260.82 L479.25,260.88 L479.71,260.95 L480.17,261.01 L480.64,261.07 L481.10,261.13 L481.56,261.19 L482.02,261.25 L482.48,261.31 L482.94,261.37 L483.40,261.42 L483.86,261.48 L484.33,261.53 L484.79,261.59 L485.25,261.64 L485.71,261.69 L486.17,261.74 L486.63,261.79 L487.09,261.83 L487.55,261.88 L488.02,261.93 L488.48,261.97 L488.94,262.02 L489.40,262.06 L489.86,262.10 L490.32,262.14 L490.78,262.18 L491.24,262.21 L491.71,262.25 L492.17,262.28 L492.63,262.32 L493.09,262.35 L493.55,262.38" stroke="#00ff00" stroke-width="2.5"/>
</g>
<line x1="78.90" y1="267.80" x2="83.90" y2="267.80" stroke="#000" stroke-width="2.8"/>
<line x1="78.90" y1="254.46" x2="82.10" y2="254.46" stroke="#000" stroke-width="2.8"/>
<line x1="78.90" y1="241.12" x2="82.10" y2="241.12" stroke="#000" stroke-width="2.8"/>
<line x1="78.90" y1="227.78" x2="82.10" y2="227.78" stroke="#000" stroke-width="2.8"/>
<line x1="78.90" y1="214.44" x2="83.90" y2="214.44" stroke="#000" stroke-width="2.8"/>
<line x1="78.90" y1="201.10" x2="82.10" y2="201.10" stroke="#000" stroke-width="2.8"/>
<line x1="78.90" y1="187.76" x2="82.10" y2="187.76" stroke="#000" stroke-width="2.8"/>
<line x1="78.90" y1="174.42" x2="82.10" y2="174.42" stroke="#000" stroke-width="2.8"/>
<line x1="78.90" y1="161.08" x2="83.90" y2="161.08" stroke="#000" stroke-width="2.8"/>
<line x1="78.90" y1="147.74" x2="82.10" y2="147.74" stroke="#000" stroke-width="2.8"/>
<line x1="78.90" y1="134.40" x2="82.10" y2="134.40" stroke="#000" stroke-width="2.8"/>
<line x1="78.90" y1="121.06" x2="82.10" y2="121.06" stroke="#000" stroke-width="2.8"/>
<line x1="78.90" y1="107.72" x2="83.90" y2="107.72" stroke="#000" stroke-width="2.8"/>
<line x1="78.90" y1="94.38" x2="82.10" y2="94.38" stroke="#000" stroke-width="2.8"/>
<line x1="78.90" y1="81.04" x2="82.10" y2="81.04" stroke="#000" stroke-width="2.8"/>
<line x1="78.90" y1="67.70" x2="82.10" y2="67.70" stroke="#000" stroke-width="2.8"/>
<line x1="78.90" y1="54.36" x2="83.90" y2="54.36" stroke="#000" stroke-width="2.8"/>
<line x1="78.90" y1="41.02" x2="82.10" y2="41.02" stroke="#000" stroke-width="2.8"/>
<line x1="174.59" y1="281.40" x2="174.59" y2="276.60" stroke="#000" stroke-width="2.8"/>
<line x1="280.91" y1="281.40" x2="280.91" y2="276.60" stroke="#000" stroke-width="2.8"/>
<line x1="387.23" y1="281.40" x2="387.23" y2="276.60" stroke="#000" stroke-width="2.8"/>
<g stroke="#000" stroke-linecap="butt">
<line x1="77.4" y1="27.599999999999998" x2="495.05" y2="27.599999999999998" stroke-width="3"/>
<line x1="77.4" y1="281.4" x2="495.05" y2="281.4" stroke-width="2.8"/>
<line x1="78.9" y1="26.2" x2="78.9" y2="282.79999999999995" stroke-width="3"/>
<line x1="493.55" y1="26.2" x2="493.55" y2="282.79999999999995" stroke-width="3"/>
</g>
<!-- legend -->
<g fill="none">
<line x1="357.0" y1="69.1" x2="408.2" y2="69.1" stroke="#0000ff" stroke-width="3.7" stroke-dasharray="13.6 5.25"/>
<line x1="357.0" y1="102.8" x2="410.3" y2="102.8" stroke="#ff0000" stroke-width="3.8" stroke-dasharray="5.3 2 9.1 2"/>
<line x1="357.0" y1="136.5" x2="413.2" y2="136.5" stroke="#00ff00" stroke-width="2.6"/>
</g>
<g font-size="15.7">
<text transform="translate(423.00,74.70) rotate(0.02)" class="i">S</text>
<text transform="translate(433.10,67.70) rotate(0.02)" font-size="10.60" class="i">A</text>
<text transform="translate(455.35,67.70) rotate(0.02)" font-size="10.60" class="i">B</text>
<path d="M440.6,65.00 H454.2" stroke="#1a1a1a" stroke-width="0.95" fill="none"/>
<path d="M451.3,62.40 L454.25,65.00 L451.3,67.60" stroke="#000" stroke-width="1.1" fill="none"/>
<text transform="translate(433.20,77.30) rotate(0.02)" font-size="10.60" class="i">p</text>
<text transform="translate(423.00,108.60) rotate(0.02)" class="i">S</text>
<text transform="translate(433.10,102.00) rotate(0.02)" font-size="10.60" class="i">B</text>
<text transform="translate(455.35,102.00) rotate(0.02)" font-size="10.60" class="i">A</text>
<path d="M440.6,99.00 H454.2" stroke="#1a1a1a" stroke-width="0.95" fill="none"/>
<path d="M451.3,96.40 L454.25,99.00 L451.3,101.60" stroke="#000" stroke-width="1.1" fill="none"/>
<text transform="translate(433.20,110.90) rotate(0.02)" font-size="10.60" class="i">p</text>
<text transform="translate(423.00,141.85) rotate(0.02)" class="i">S</text>
<text transform="translate(433.30,135.45) rotate(0.02)" font-size="10.60">Δ</text>
<text transform="translate(433.00,145.00) rotate(0.02)" font-size="10.60"><tspan class="i">p</tspan>,AB</text>
</g>
</svg>
</body></html>
